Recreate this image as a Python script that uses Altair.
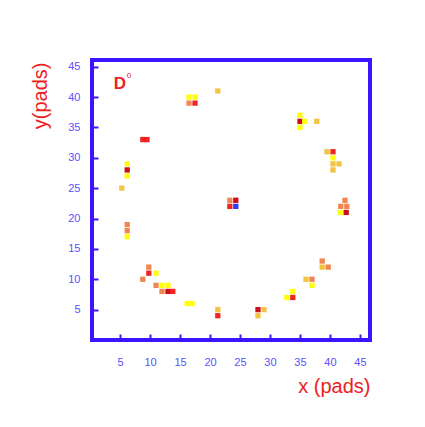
import altair as alt
import pandas as pd

# Hit pads (x, y in pads) and their amplitude class
xs = [16.5, 16.5, 17.5, 17.5, 21.3,
      8.8, 9.5,
      6.2, 6.2, 6.2,
      5.3,
      6.2, 6.2, 6.2,
      9.8, 9.8, 11.0, 8.8, 11.0, 12.0, 13.0, 12.0, 13.0, 13.8,
      16.2, 17.0,
      21.3, 21.3,
      28.0, 29.0, 28.0,
      33.8, 32.8, 33.8,
      36.0, 37.0, 37.0,
      38.7, 38.7, 39.7,
      42.5, 41.8, 42.8, 41.7, 42.7,
      39.5, 40.5, 40.5, 40.5, 41.5, 40.5,
      35.0, 35.0, 35.0, 35.8, 37.8,
      23.3, 24.3, 23.3, 24.3]
ys = [40, 39, 40, 39, 41,
      33, 33,
      29, 28, 27,
      25,
      19, 18, 17,
      12, 11, 11, 10, 9, 9, 9, 8, 8, 8,
      6, 6,
      5, 4,
      5, 5, 4,
      8, 7, 7,
      10, 10, 9,
      13, 12, 12,
      23, 22, 22, 21, 21,
      31, 31, 30, 29, 29, 28,
      37, 36, 35, 36, 36,
      23, 23, 22, 22]
levels = ["Y", "O", "Y", "R", "G",
          "R", "R",
          "Y", "D", "Y",
          "G",
          "O", "O", "Y",
          "O", "R", "Y", "O", "O", "Y", "Y", "O", "D", "R",
          "Y", "Y",
          "G", "R",
          "D", "G", "G",
          "Y", "Y", "R",
          "G", "O", "Y",
          "O", "G", "O",
          "O", "O", "O", "Y", "D",
          "G", "R", "Y", "G", "G", "G",
          "Y", "D", "Y", "Y", "G",
          "O", "D", "R", "B"]

level_names = ["Y", "G", "O", "R", "D", "B"]
level_colors = ["#ffff00", "#f2c03a", "#f0804a", "#f01818", "#c80010", "#2030ff"]

tick_values = [5, 10, 15, 20, 25, 30, 35, 40, 45]
annotation = ["D"]
annotation_sup = ["0"]

df = pd.DataFrame({"x": xs, "y": ys, "level": levels})

blue = "#3c14ff"
label_blue = "#5a50ff"
red = "#f02020"

x_axis = alt.Axis(
    values=tick_values, grid=False, domain=False, offset=-6, tickSize=6,
    tickWidth=2, tickColor=blue, labelColor=label_blue, labelFontSize=11,
    labelFont="Liberation Sans", labelPadding=16, title="x (pads)",
    titleColor=red, titleFontSize=20, titleFont="Liberation Sans",
    titleFontWeight="normal", titleX=278, titleY=52, titleAlign="right",
    titleBaseline="middle",
)
y_axis = alt.Axis(
    values=tick_values, grid=False, domain=False, offset=-6, tickSize=6,
    tickWidth=2, tickColor=blue, labelColor=label_blue, labelFontSize=11,
    labelFont="Liberation Sans", labelPadding=12, title="y(pads)",
    titleColor=red, titleFontSize=20, titleFont="Liberation Sans",
    titleFontWeight="normal", titleX=-58, titleY=2, titleAngle=-90,
    titleAlign="right", titleBaseline="middle",
)

points = alt.Chart(df).mark_square(size=28, opacity=0.95).encode(
    x=alt.X("x:Q", scale=alt.Scale(domain=[0.33, 46.67], nice=False, zero=False), axis=x_axis),
    y=alt.Y("y:Q", scale=alt.Scale(domain=[0, 46.1], nice=False, zero=False), axis=y_axis),
    color=alt.Color("level:N", scale=alt.Scale(domain=level_names, range=level_colors), legend=None),
)

label = alt.Chart(pd.DataFrame({"t": annotation})).mark_text(
    font="Liberation Sans", fontSize=17, fontWeight="bold", color=red, align="center", baseline="middle"
).encode(x=alt.value(28), y=alt.value(24), text="t:N")

label_sup = alt.Chart(pd.DataFrame({"t": annotation_sup})).mark_text(
    font="Liberation Sans", fontSize=8, color=red, align="center", baseline="middle"
).encode(x=alt.value(37), y=alt.value(16), text="t:N")

chart = alt.layer(points, label, label_sup).properties(
    width=278, height=280,
    padding={"left": 84, "top": 52, "right": 30, "bottom": 70},
    autosize=alt.AutoSizeParams(type="none"),
    background="white",
).configure_view(stroke=blue, strokeWidth=4)

chart.save("out.html", embed_options={"renderer": "svg", "actions": False})
